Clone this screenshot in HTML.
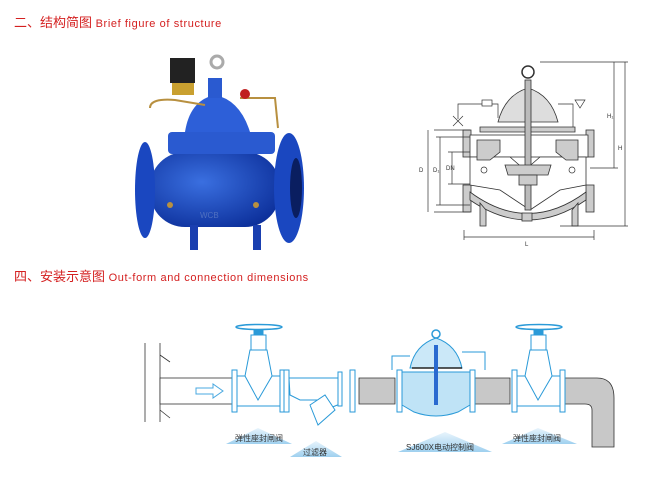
<!DOCTYPE html>
<html><head><meta charset="utf-8"><style>
html,body{margin:0;padding:0;background:#fff;width:650px;height:477px;overflow:hidden}
svg{display:block}
.t{font-family:"Liberation Sans","Noto Sans CJK SC",sans-serif}
</style></head><body>
<svg width="650" height="477" viewBox="0 0 650 477" xmlns="http://www.w3.org/2000/svg">
<defs>
<linearGradient id="tri" x1="0" y1="0" x2="0" y2="1"><stop offset="0" stop-color="#e8f4fc"/><stop offset="1" stop-color="#9fd0ef"/></linearGradient>
<radialGradient id="blue" cx="0.4" cy="0.4" r="0.7"><stop offset="0" stop-color="#3a6fe0"/><stop offset="1" stop-color="#0c2f9a"/></radialGradient>
</defs>
<text x="14" y="27" class="t" font-size="13" fill="#d42020">二、结构简图 <tspan font-size="11" letter-spacing="0.6">Brief figure of structure</tspan></text>
<text x="14" y="281" class="t" font-size="13" fill="#d42020">四、安装示意图 <tspan font-size="11" letter-spacing="0.6">Out-form and connection dimensions</tspan></text>

<g>
<rect x="150" y="152" width="130" height="75" rx="35" fill="url(#blue)"/>
<ellipse cx="145" cy="190" rx="10" ry="48" fill="#1a47c0"/>
<ellipse cx="289" cy="188" rx="15" ry="55" fill="#1a47c0"/>
<ellipse cx="296" cy="188" rx="6" ry="30" fill="#0a1e60"/>
<rect x="190" y="225" width="8" height="25" fill="#1a3fb0"/>
<rect x="253" y="225" width="8" height="25" fill="#1a3fb0"/>
<rect x="168" y="132" width="107" height="22" rx="4" fill="#2a5ad0"/>
<path d="M185 132 Q190 100 215 95 Q240 100 250 132Z" fill="#2d5fd8"/>
<rect x="208" y="78" width="14" height="20" fill="#2a5ad0"/>
<circle cx="217" cy="62" r="6" fill="none" stroke="#aaa" stroke-width="3"/>
<rect x="170" y="58" width="25" height="25" fill="#222"/>
<rect x="172" y="83" width="22" height="12" fill="#c9a030"/>
<path d="M150 108 Q150 98 175 100 L205 105" fill="none" stroke="#b89040" stroke-width="2"/>
<path d="M240 98 L275 98 L278 128" fill="none" stroke="#b89040" stroke-width="2"/>
<circle cx="245" cy="94" r="5" fill="#c02020"/>
<circle cx="170" cy="205" r="3" fill="#b89040"/><circle cx="256" cy="205" r="3" fill="#b89040"/>
<text x="200" y="218" class="t" font-size="8" fill="#5070c0">WCB</text>
</g>

<g fill="#ccc" stroke="#333" stroke-width="0.8">
<rect x="463" y="130" width="8" height="27"/><rect x="463" y="185" width="8" height="27"/>
<rect x="586" y="130" width="8" height="27"/><rect x="586" y="185" width="8" height="27"/>
<rect x="470" y="135" width="118" height="22" fill="#fff"/>
<path d="M470 157 L510 157 L525 170 L540 157 L586 157 L586 185 L560 190 L530 210 L500 190 L470 185Z" fill="#fff"/>
<path d="M470 192 Q528 235 586 192 L586 200 Q528 240 470 200Z"/>
<path d="M480 203 L480 226 L486 226 L486 210Z"/><path d="M578 203 L578 226 L572 226 L572 210Z"/>
<rect x="522" y="213" width="10" height="8"/>
<path d="M480 127 L575 127 L575 132 L480 132Z"/>
<path d="M498 122 Q505 95 528 88 Q551 95 558 122Z" fill="#ddd"/>
<rect x="525" y="80" width="6" height="130" fill="#bbb"/>
<circle cx="528" cy="72" r="6" fill="none" stroke-width="1.5"/>
<path d="M505 165 L551 165 L548 175 L508 175Z"/>
<rect x="519" y="175" width="18" height="10"/>
<path d="M477 160 L490 160 L500 152 L500 140 L477 140Z"/>
<path d="M578 160 L566 160 L556 152 L556 140 L578 140Z"/>
</g>
<g fill="none" stroke="#333" stroke-width="0.7">
<path d="M458 119 L458 104 L498 104 L498 118"/>
<rect x="482" y="100" width="10" height="6" fill="#fff"/>
<path d="M558 104 L573 104 L573 127"/>
<path d="M575 100 L585 100 L580 108Z"/>
<path d="M453 116 L463 126 M463 116 L453 126"/>
<path d="M434 130 L470 130 M434 212 L470 212 M428 130 L428 212 M440 137 L440 205 M436 137 L470 137 M436 205 L470 205 M452 152 L452 184 M448 152 L470 152 M448 184 L470 184"/>
<path d="M464 237 L594 237 M464 230 L464 240 M594 230 L594 240"/>
<path d="M540 62 L628 62 M614 62 L614 168 M625 62 L625 226 M590 168 L618 168 M560 226 L628 226"/>
<circle cx="484" cy="170" r="3"/><circle cx="572" cy="170" r="3"/>
</g>
<g class="t" font-size="6" fill="#333">
<text x="525" y="246">L</text><text x="419" y="172">D</text><text x="433" y="172">D₁</text><text x="446" y="170">DN</text>
<text x="607" y="118">H₁</text><text x="618" y="150">H</text>
</g>

<g stroke="#333" stroke-width="0.8" fill="none">
<path d="M145 343 L145 422 M160 343 L160 422 M160 355 L170 362 M160 410 L170 418"/>
</g>
<rect x="160" y="378" width="72" height="26" fill="#fff" stroke="#333" stroke-width="0.8"/>
<path d="M359 378 L395 378 L395 404 L359 404Z M475 378 L510 378 L510 404 L475 404Z" fill="#c8c8c8" stroke="#333" stroke-width="0.8"/>
<path d="M563 378 L597 378 Q614 378 614 398 L614 447 L592 447 L592 410 Q592 404 585 404 L563 404Z" fill="#c8c8c8" stroke="#333" stroke-width="0.8"/>
<path d="M196 388 L213 388 L213 384 L223 391 L213 398 L213 394 L196 394Z" fill="#fff" stroke="#49a8e0" stroke-width="1"/>
<path d="M309 389 L316 389 L316 386 L320 391 L316 395 L316 392 L309 392Z" fill="#d82020"/>
<g stroke="#2a9ad8" stroke-width="1" fill="#fff">
<rect x="232" y="370" width="5" height="42"/><rect x="280" y="370" width="5" height="42"/>
<path d="M237 376 L280 376 L280 406 L237 406Z"/>
<path d="M245 376 L250 350 L267 350 L272 376 L258 400Z"/>
<rect x="251" y="335" width="15" height="15"/>
<rect x="254" y="328" width="9" height="7" fill="#2a9ad8"/>
<ellipse cx="259" cy="327" rx="23" ry="2.5" stroke-width="1.5"/>
<rect x="284" y="370" width="5" height="42"/>
<path d="M289 378 L340 378 L340 404 L330 408 L320 400 L300 400 L290 395Z"/>
<path d="M310 405 L325 395 L335 410 L318 425Z"/>
<rect x="338" y="372" width="4" height="34"/><rect x="350" y="370" width="5" height="42"/>
<rect x="397" y="370" width="5" height="42"/><rect x="470" y="370" width="5" height="42"/>
<path d="M402 372 L470 372 L470 405 L458 412 Q436 420 414 412 L402 405Z" fill="#bfe3f6"/>
<path d="M410 368 Q415 345 436 338 Q457 345 462 368Z" fill="#cbe8f8"/>
<circle cx="436" cy="334" r="4" fill="none" stroke-width="1.5"/>
<path d="M412 368 L462 368" stroke="#222" stroke-width="1.5"/>
<path d="M410 356 L392 356 L392 370 M462 352 L485 352 L485 370"/>
<rect x="512" y="370" width="5" height="42"/><rect x="560" y="370" width="5" height="42"/>
<path d="M517 376 L560 376 L560 406 L517 406Z"/>
<path d="M525 376 L530 350 L547 350 L552 376 L538 400Z"/>
<rect x="531" y="335" width="15" height="15"/>
<rect x="534" y="328" width="9" height="7" fill="#2a9ad8"/>
<ellipse cx="539" cy="327" rx="23" ry="2.5" stroke-width="1.5"/>
</g>
<rect x="434" y="345" width="4" height="60" fill="#2a6ad0"/>
<path d="M226 444 L258 428 L292 444Z" fill="url(#tri)"/>
<path d="M290 457 L316 441 L342 457Z" fill="url(#tri)"/>
<path d="M398 452 L445 432 L492 452Z" fill="url(#tri)"/>
<path d="M502 444 L538 428 L577 444Z" fill="url(#tri)"/>
<g class="t" font-size="8" fill="#333">
<text x="235" y="441">弹性座封闸阀</text>
<text x="303" y="455">过滤器</text>
<text x="406" y="450">SJ600X电动控制阀</text>
<text x="513" y="441">弹性座封闸阀</text>
</g>
</svg>
</body></html>
